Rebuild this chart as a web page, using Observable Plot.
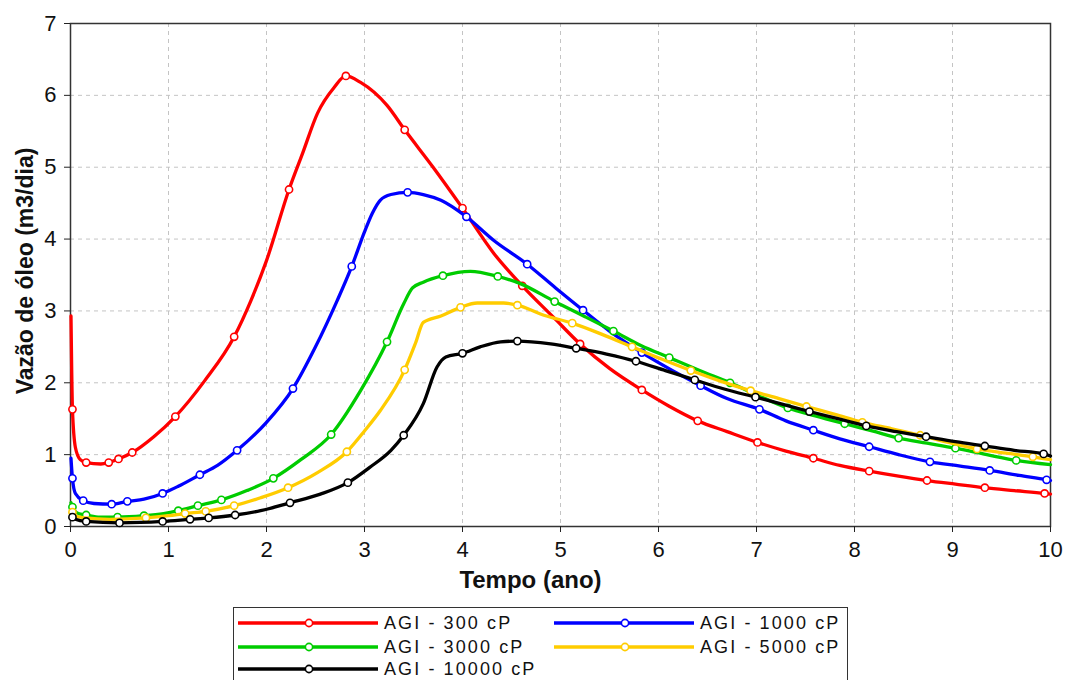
<!DOCTYPE html>
<html><head><meta charset="utf-8">
<script src="https://cdn.jsdelivr.net/npm/d3@7"></script>
<script src="https://cdn.jsdelivr.net/npm/@observablehq/plot@0.6"></script>
<style>
body{margin:0;background:#fff;font-family:Arial,"Liberation Sans",sans-serif;}
#wrap{position:relative;width:1068px;height:680px;overflow:hidden;background:#fff;}
#legend{position:absolute;left:233px;top:607px;width:615px;height:90px;border:1px solid #333;box-sizing:border-box;background:#fff;}
.item{position:absolute;display:flex;align-items:center;height:22px;font-size:18px;letter-spacing:2.1px;color:#111;white-space:nowrap;}
.item svg{display:block;margin-right:5px;}
</style></head><body><div id="wrap"><div id="chart"></div><div id="legend"></div></div>
<script>
// [tempo (ano), vazão (m3/dia), marker flag]
const agi300 = [[0.005,2.93,0],[0.012,2.2,0],[0.02,1.63,1],[0.05,1.1,0],[0.1,0.93,0],[0.16,0.89,1],[0.31,0.87,0],[0.39,0.89,1],[0.49,0.94,1],[0.63,1.03,1],[0.85,1.25,0],[1.07,1.53,1],[1.37,2.03,0],[1.67,2.64,1],[1.84,3.14,0],[2.0,3.7,0],[2.23,4.69,1],[2.37,5.2,0],[2.52,5.75,0],[2.69,6.11,0],[2.81,6.27,1],[2.96,6.18,0],[3.23,5.86,0],[3.41,5.52,1],[3.7,5.0,0],[4.0,4.43,1],[4.32,3.8,0],[4.61,3.35,1],[4.93,2.91,0],[5.2,2.54,1],[5.5,2.2,0],[5.83,1.9,1],[6.1,1.68,0],[6.4,1.47,1],[6.7,1.32,0],[7.01,1.17,1],[7.3,1.05,0],[7.58,0.95,1],[7.85,0.85,0],[8.15,0.77,1],[8.45,0.7,0],[8.74,0.64,1],[9.03,0.59,0],[9.33,0.54,1],[9.63,0.5,0],[9.94,0.46,1],[10,0.45,0]];
const agi1000 = [[0.005,0.95,0],[0.02,0.67,1],[0.05,0.46,0],[0.13,0.36,1],[0.24,0.32,0],[0.42,0.31,1],[0.58,0.35,1],[0.75,0.38,0],[0.94,0.46,1],[1.1,0.56,0],[1.32,0.72,1],[1.5,0.85,0],[1.7,1.06,1],[2.0,1.45,0],[2.27,1.92,1],[2.5,2.5,0],[2.72,3.14,0],[2.87,3.62,1],[3.0,4.1,0],[3.08,4.36,0],[3.16,4.54,0],[3.27,4.62,0],[3.44,4.65,1],[3.6,4.62,0],[3.78,4.54,0],[4.04,4.31,1],[4.32,3.98,0],[4.66,3.65,1],[4.95,3.32,0],[5.23,3.01,1],[5.5,2.72,0],[5.83,2.42,1],[6.13,2.18,0],[6.43,1.96,1],[6.7,1.78,0],[7.03,1.63,1],[7.3,1.47,0],[7.58,1.34,1],[7.85,1.22,0],[8.15,1.11,1],[8.45,1.0,0],[8.77,0.9,1],[9.08,0.84,0],[9.38,0.78,1],[9.68,0.71,0],[9.96,0.65,1],[10,0.64,0]];
const agi3000 = [[0.005,0.33,0],[0.02,0.27,1],[0.08,0.18,0],[0.16,0.16,1],[0.3,0.13,0],[0.48,0.13,1],[0.75,0.15,1],[0.95,0.18,0],[1.1,0.22,1],[1.3,0.29,1],[1.54,0.37,1],[1.8,0.5,0],[2.07,0.67,1],[2.35,0.93,0],[2.66,1.28,1],[2.96,1.89,0],[3.23,2.57,1],[3.4,3.1,0],[3.49,3.32,0],[3.6,3.4,0],[3.8,3.49,1],[4.08,3.55,0],[4.36,3.48,1],[4.59,3.38,0],[4.94,3.13,1],[5.25,2.92,0],[5.54,2.72,1],[5.82,2.52,0],[6.11,2.35,1],[6.42,2.17,0],[6.73,2.0,1],[7.02,1.82,0],[7.32,1.65,1],[7.6,1.54,0],[7.9,1.43,1],[8.18,1.33,0],[8.45,1.23,1],[8.74,1.16,0],[9.03,1.09,1],[9.35,1.0,0],[9.65,0.92,1],[10,0.86,0]];
const agi5000 = [[0.005,0.23,0],[0.02,0.2,1],[0.05,0.15,0],[0.15,0.12,0],[0.4,0.1,0],[0.77,0.12,1],[1.0,0.15,0],[1.17,0.18,1],[1.38,0.21,1],[1.67,0.29,1],[1.94,0.4,0],[2.22,0.54,1],[2.52,0.75,0],[2.82,1.04,1],[3.0,1.33,0],[3.16,1.61,0],[3.41,2.18,1],[3.52,2.55,0],[3.6,2.84,0],[3.78,2.93,0],[3.98,3.05,1],[4.15,3.11,0],[4.42,3.11,0],[4.56,3.08,1],[4.83,2.94,0],[5.12,2.83,1],[5.43,2.67,0],[5.73,2.5,1],[6.03,2.33,0],[6.33,2.17,1],[6.64,2.02,0],[6.94,1.89,1],[7.23,1.78,0],[7.51,1.67,1],[7.8,1.56,0],[8.08,1.45,1],[8.38,1.36,0],[8.67,1.27,1],[8.96,1.17,0],[9.25,1.08,1],[9.55,1.02,0],[9.82,0.97,1],[10,0.93,0]];
const agi10000 = [[0.005,0.16,0],[0.02,0.13,1],[0.05,0.1,0],[0.16,0.07,1],[0.5,0.05,1],[0.94,0.07,1],[1.22,0.1,1],[1.41,0.12,1],[1.68,0.16,1],[1.94,0.22,0],[2.24,0.33,1],[2.55,0.45,0],[2.83,0.61,1],[3.05,0.82,0],[3.27,1.06,0],[3.4,1.27,1],[3.6,1.71,0],[3.74,2.22,0],[3.83,2.36,0],[4.0,2.41,1],[4.18,2.5,0],[4.39,2.57,0],[4.56,2.58,1],[4.9,2.54,0],[5.16,2.48,1],[5.47,2.4,0],[5.77,2.3,1],[6.07,2.17,0],[6.37,2.04,1],[6.68,1.91,0],[6.99,1.8,1],[7.27,1.7,0],[7.54,1.6,1],[7.83,1.5,0],[8.12,1.4,1],[8.43,1.32,0],[8.73,1.25,1],[9.03,1.18,0],[9.33,1.12,1],[9.63,1.06,0],[9.93,1.01,1],[10,0.98,0]];

const seriesNames = ["AGI - 300 cP","AGI - 1000 cP","AGI - 3000 cP","AGI - 5000 cP","AGI - 10000 cP"];
const seriesColors = ["#ff0000","#0000ff","#00cc00","#ffcc00","#000000"];
const seriesData = [agi300, agi1000, agi3000, agi5000, agi10000];
const xTicks = [0,1,2,3,4,5,6,7,8,9,10];
const yTicks = [0,1,2,3,4,5,6,7];
const xTitle = "Tempo (ano)";
const yTitle = "Vazão de óleo (m3/dia)";

const rows = seriesData.map((arr, i) => arr.map(([t, v, m]) => ({t, v, m, name: seriesNames[i]})));

const chart = Plot.plot({
  width: 1068, height: 600,
  marginTop: 23, marginLeft: 70, marginRight: 18, marginBottom: 74,
  x: {domain: [0, 10]},
  y: {domain: [0, 7]},
  color: {domain: seriesNames, range: seriesColors},
  style: {fontFamily: "Arial, 'Liberation Sans', sans-serif", fontSize: "22px", color: "#111", background: "white"},
  marks: [
    Plot.gridX(xTicks, {stroke: "#c4c4c4", strokeOpacity: 1, strokeDasharray: "4,4"}),
    Plot.gridY(yTicks, {stroke: "#c4c4c4", strokeOpacity: 1, strokeDasharray: "4,4"}),
    Plot.frame({stroke: "#333", strokeWidth: 1.5}),
    Plot.axisX(xTicks, {tickSize: 6, tickPadding: 9, label: null, fontSize: 22, tickFormat: d => String(d), stroke: "#222"}),
    Plot.axisY(yTicks, {tickSize: 6, tickPadding: 8, label: null, fontSize: 22, tickFormat: d => String(d), stroke: "#222"}),
    ...rows.flatMap(r => [
      Plot.line(r, {x: "t", y: "v", stroke: "name", strokeWidth: 3.3, curve: "monotone-x"}),
      Plot.dot(r.filter(d => d.m), {x: "t", y: "v", stroke: "name", fill: "white", r: 3.6, strokeWidth: 1.6})
    ]),
    Plot.text([yTitle], {frameAnchor: "left", textAnchor: "middle", rotate: -90, dx: -45, dy: -4, fontWeight: "bold", fontSize: 23, fill: "#111"}),
    Plot.text([xTitle], {frameAnchor: "bottom", textAnchor: "middle", dx: -30, dy: 61, fontWeight: "bold", fontSize: 24, fill: "#111"})
  ]
});
document.getElementById("chart").appendChild(chart);

// Legend
const legend = document.getElementById("legend");
const pos = [[3, 4], [319, 4], [3, 28], [319, 28], [3, 50]];
seriesNames.forEach((name, i) => {
  const div = document.createElement("div");
  div.className = "item";
  div.style.left = pos[i][0] + "px";
  div.style.top = pos[i][1] + "px";
  const c = seriesColors[i];
  div.innerHTML = `<svg width="142" height="14"><line x1="1" x2="141" y1="7" y2="7" stroke="${c}" stroke-width="3.3"/><circle cx="72" cy="7" r="3.6" fill="white" stroke="${c}" stroke-width="1.6"/></svg><span></span>`;
  div.querySelector("span").textContent = name;
  legend.appendChild(div);
});
</script>
</body></html>
